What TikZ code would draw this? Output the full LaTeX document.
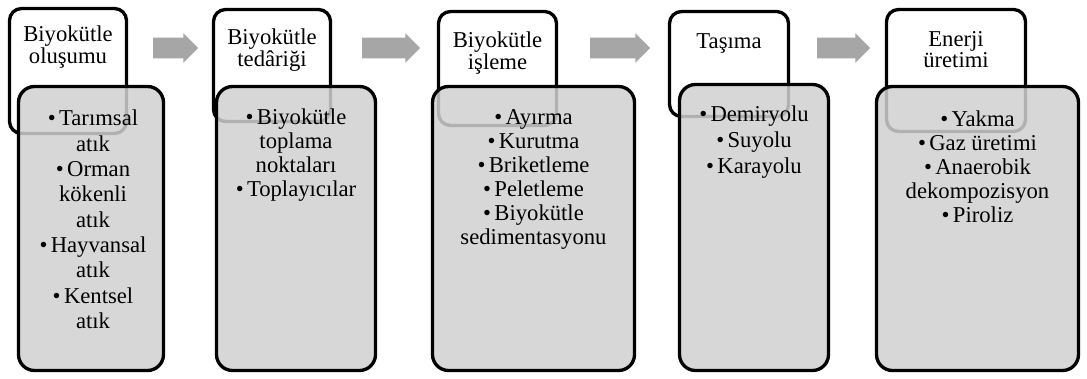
\documentclass[tikz,border=0pt]{standalone}
\usepackage{fontspec}
\setmainfont{Liberation Serif}
\usetikzlibrary{shapes.arrows}
\definecolor{boxgray}{RGB}{208,208,208}
\definecolor{arrowgray}{RGB}{166,166,166}
\newcommand{\itm}{•\hspace{2.5pt}}
\tikzset{
  stagebox/.style={draw, line width=2.5pt, rounded corners=9pt, fill=white, inner sep=0pt},
  listbox/.style={draw, line width=2.5pt, rounded corners=12pt, fill=boxgray, fill opacity=0.85, inner sep=0pt},
  stagetext/.style={anchor=north, align=center, inner sep=0pt, font=\fontsize{17}{16}\selectfont},
  listtext/.style={anchor=north, align=center, inner sep=0pt, font=\fontsize{17}{18}\selectfont},
  flowarrow/.style={single arrow, fill=arrowgray, draw=none, inner sep=0pt,
    text height=7.5pt, text depth=7.5pt, single arrow head extend=3.4pt}
}
\begin{document}
\begin{tikzpicture}[x=0.75pt, y=-0.75pt]
  \useasboundingbox (0,0) rectangle (1087,378);
  % stage boxes
  \node[stagebox, minimum width=87.75pt, minimum height=93.75pt] (s1) at (68,71) {};
  \node[stagebox, minimum width=87.75pt, minimum height=84pt] (s2) at (272,65.5) {};
  \node[stagebox, minimum width=88.5pt, minimum height=85.5pt] (s3) at (497.5,68.5) {};
  \node[stagebox, minimum width=89.25pt, minimum height=78.75pt] (s4) at (729,64) {};
  \node[stagebox, minimum width=104.25pt, minimum height=91.5pt] (s5) at (956,70.5) {};
  \node[stagetext] (t1) at (68,26) {Biyokütle\\oluşumu};
  \node[stagetext] (t2) at (272,29) {Biyokütle\\tedâriği};
  \node[stagetext] (t3) at (497.5,32) {Biyokütle\\işleme};
  \node[stagetext] (t4) at (729,33) {Taşıma};
  \node[stagetext] (t5) at (956,31) {Enerji\\üretimi};
  % arrows between stages
  \node[flowarrow, minimum height=33.75pt] (a1) at (170.5,48) {};
  \node[flowarrow, minimum height=43.5pt] (a2) at (386,48) {};
  \node[flowarrow, minimum height=45pt] (a3) at (615,48) {};
  \node[flowarrow, minimum height=39.75pt] (a4) at (838.5,48) {};
  % item boxes
  \node[listbox, minimum width=108.75pt, minimum height=213pt] (l1) at (91,228.5) {};
  \node[listbox, minimum width=119.25pt, minimum height=213pt] (l2) at (296,228.5) {};
  \node[listbox, minimum width=151.5pt, minimum height=213pt] (l3) at (533.5,228.5) {};
  \node[listbox, minimum width=111.75pt, minimum height=214.5pt] (l4) at (754,227.5) {};
  \node[listbox, minimum width=151.5pt, minimum height=213pt] (l5) at (977.5,228.5) {};
  \node[listtext, font=\fontsize{17}{19}\selectfont] (i1) at (93,110) {\itm Tarımsal\\atık\\\itm Orman\\kökenli\\atık\\\itm Hayvansal\\atık\\\itm Kentsel\\atık};
  \node[listtext] (i2) at (296,109) {\itm Biyokütle\\toplama\\noktaları\\\itm Toplayıcılar};
  \node[listtext] (i3) at (533.5,109) {\itm Ayırma\\\itm Kurutma\\\itm Briketleme\\\itm Peletleme\\\itm Biyokütle\\sedimentasyonu};
  \node[listtext, font=\fontsize{17}{19.5}\selectfont] (i4) at (754,106) {\itm Demiryolu\\\itm Suyolu\\\itm Karayolu};
  \node[listtext] (i5) at (977.5,111) {\itm Yakma\\\itm Gaz üretimi\\\itm Anaerobik\\dekompozisyon\\\itm Piroliz};
\end{tikzpicture}
\end{document}
